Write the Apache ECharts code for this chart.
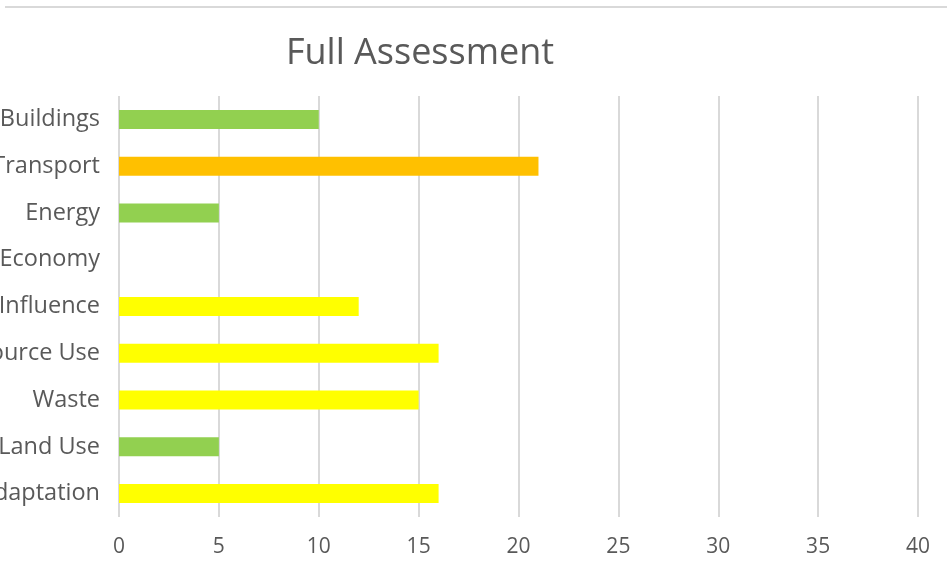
<!DOCTYPE html>
<html><head><meta charset="utf-8">
<script src="https://cdn.jsdelivr.net/npm/echarts@6/dist/echarts.min.js"></script>
<style>html,body{margin:0;padding:0;background:#fff;}#c{width:947px;height:578px;}
#topline{position:absolute;left:5px;top:6px;width:942px;height:2px;background:#d9d9d9;}</style>
</head><body><div id="topline"></div><div id="c"></div>
<script>
var categories = ['Adaptation','Land Use','Waste','Resource Use','Influence','Economy','Energy','Transport','Buildings'];
var values = [16,5,15,16,12,0,5,21,10];
var colors = ['#ffff00','#92d050','#ffff00','#ffff00','#ffff00','#92d050','#92d050','#ffc000','#92d050'];
var xTicks = [0,5,10,15,20,25,30,35,40];
var font = '"Open Sans", Lato, sans-serif';
var chart = echarts.init(document.getElementById('c'));
chart.setOption({
  animation:false,
  title:{text:'Full Assessment',left:415,top:31,textAlign:'center',
    textStyle:{fontFamily:font,fontSize:36,fontWeight:'normal',color:'#595959'}},
  grid:{left:119,right:29,top:96,bottom:61,containLabel:false,outerBoundsMode:'none'},
  xAxis:{type:'value',min:xTicks[0],max:xTicks[xTicks.length-1],interval:5,
    axisLine:{show:false},axisTick:{show:false},
    splitLine:{lineStyle:{color:'#d9d9d9',width:2}},
    axisLabel:{fontFamily:font,fontSize:21,color:'#595959',margin:20}},
  yAxis:{type:'category',data:categories,
    axisLine:{show:false},axisTick:{show:false},
    axisLabel:{fontFamily:font,fontSize:23.5,color:'#595959',margin:19,padding:[6,0,0,0]}},
  series:[{type:'bar',barWidth:19,
    data:values.map(function(v,i){return {value:v,itemStyle:{color:colors[i]}};})}]
});
</script></body></html>
